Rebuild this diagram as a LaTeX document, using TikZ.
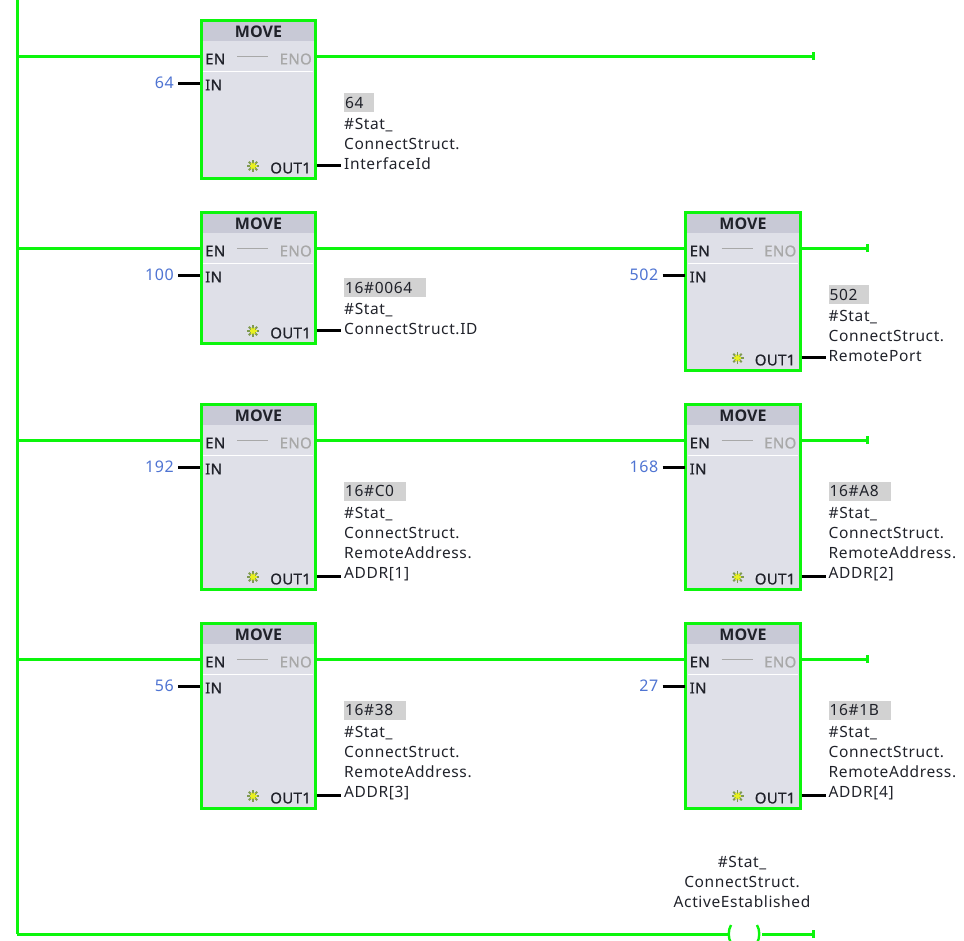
\documentclass[tikz,border=0pt]{standalone}
\usepackage{fontspec}
\setmainfont{Noto Sans}[LetterSpace=4]
\newfontfamily\headfont{Open Sans}
\newfontfamily\portfont{Noto Sans}[FakeBold=0.8,LetterSpace=2]
\definecolor{rung}{HTML}{0CF50C}
\definecolor{bodyc}{HTML}{DFE0E8}
\definecolor{headc}{HTML}{C8C9D6}
\definecolor{valc}{HTML}{4F74D2}
\definecolor{grayval}{HTML}{D2D2D2}
\definecolor{enoc}{HTML}{A8A8A8}
\definecolor{txt}{HTML}{20222A}
\definecolor{starout}{HTML}{7F9A50}
\definecolor{starin}{HTML}{E8F020}
\tikzset{
 wire/.style={rung,line width=3pt},
 blockbox/.style={draw=rung,line width=3pt,fill=bodyc,anchor=north west,inner sep=0pt},
 headbox/.style={fill=headc,anchor=north west,inner sep=0pt,font=\headfont\fontsize{16}{16}\selectfont\bfseries,text=txt,align=center},
 port/.style={inner sep=0pt,font=\portfont\fontsize{15}{15}\selectfont,text=txt},
 sig/.style={black,line width=3pt},
 invalue/.style={inner sep=0pt,anchor=east,font=\fontsize{16}{16}\selectfont,text=valc},
 lbl/.style={inner sep=0pt,align=left,font=\fontsize{15.5}{20}\selectfont,text=txt},
 grayv/.style={fill=grayval,inner sep=0pt,anchor=south west,minimum height=19pt,text=txt,
   font=\fontsize{15.5}{15.5}\selectfont,align=left},
}
% name, x, top, bottom, in value, gray value, gray width, label lines
\newcommand\moveblock[8]{%
 \node[blockbox,minimum width=114.5pt,minimum height={#4-#3-1}] (#1) at (#2-0.5,#3-1) {};
 \node[headbox,minimum width=111.5pt,minimum height=19pt,text height=11pt] (#1-h) at (#2+2.5,#3+2) {MOVE};
 \draw[white,line width=1pt] (#2+3,#3+51) -- (#2+113,#3+51);
 \coordinate (#1-en) at (#2,#3+36);
 \coordinate (#1-eno) at (#2+116,#3+36);
 \coordinate (#1-in) at (#2,#3+63);
 \coordinate (#1-out) at (#2+117,#4-14);
 \coordinate (#1-star) at (#2+53,#4-13);
 \node[port,anchor=west] (#1-ent) at (#2+5,#3+39) {EN};
 \node[port,anchor=east,text=enoc] (#1-enot) at (#2+112,#3+39) {ENO};
 \draw[enoc,line width=1pt] (#2+37,#3+36.5) -- (#2+68,#3+36.5);
 \node[port,anchor=west] (#1-int) at (#2+5,#3+65) {IN};
 \node[port,anchor=east] (#1-outt) at (#2+111,#4-11) {OUT1};
 \foreach \a in {0,45,90,135}{\draw[starout,line width=1.8pt] ([shift={(\a:6pt)}]#1-star) -- ([shift={(\a+180:6pt)}]#1-star);}
 \foreach \a in {0,60,120}{\draw[starin,line width=1.8pt] ([shift={(\a:3.5pt)}]#1-star) -- ([shift={(\a+180:3.5pt)}]#1-star);}
 \node[invalue] (#1-v) at (#2-26,#3+63) {#5};
 \coordinate (#1-vr) at (#2-22,#3+63);
 \draw[sig] (#1-vr) -- (#1-in);
 \coordinate (#1-q) at (#2+141,#4-14);
 \draw[sig] (#1-out) -- (#1-q);
 \node[lbl,anchor=south west] (#1-l) at (#2+144,#4-9) {#8};
 \node[grayv,minimum width=#7] (#1-g) at ([yshift=6pt]#1-l.north west) {\makebox[#7][l]{\hspace{1pt}#6}};
}
\begin{document}
\begin{tikzpicture}[x=1pt,y=-1pt]
\useasboundingbox (0,0) rectangle (964,940);
\coordinate (top) at (17,0);
\coordinate (bot) at (17,934);
\moveblock{a}{200}{20}{179}{64}{64}{30pt}{\#Stat\_\\ConnectStruct.\\InterfaceId}
\moveblock{b}{200}{212}{344}{100}{16\#0064}{82pt}{\#Stat\_\\ConnectStruct.ID}
\moveblock{c}{684.5}{212}{371}{502}{502}{40pt}{\#Stat\_\\ConnectStruct.\\RemotePort}
\moveblock{d}{200}{404}{590}{192}{16\#C0}{62pt}{\#Stat\_\\ConnectStruct.\\RemoteAddress.\\ADDR[1]}
\moveblock{e}{684.5}{404}{590}{168}{16\#A8}{62pt}{\#Stat\_\\ConnectStruct.\\RemoteAddress.\\ADDR[2]}
\moveblock{f}{200}{623}{809}{56}{16\#38}{62pt}{\#Stat\_\\ConnectStruct.\\RemoteAddress.\\ADDR[3]}
\moveblock{g}{684.5}{623}{809}{27}{16\#1B}{62pt}{\#Stat\_\\ConnectStruct.\\RemoteAddress.\\ADDR[4]}
\draw[wire] (top) -- (bot);
\coordinate (r1) at (17,56); \coordinate (r2) at (17,248);
\coordinate (r3) at (17,440); \coordinate (r4) at (17,659);
\coordinate (e1) at (813,56); \coordinate (e2) at (867,248);
\coordinate (e3) at (867,440); \coordinate (e4) at (867,659);
\coordinate (e5) at (813,934);
\coordinate (coilL) at (729,934); \coordinate (coilR) at (762,934);
\draw[wire] (r1) -- (a-en); \draw[wire] (a-eno) -- (e1);
\draw[wire] (r2) -- (b-en); \draw[wire] (b-eno) -- (c-en); \draw[wire] (c-eno) -- (e2);
\draw[wire] (r3) -- (d-en); \draw[wire] (d-eno) -- (e-en); \draw[wire] (e-eno) -- (e3);
\draw[wire] (r4) -- (f-en); \draw[wire] (f-eno) -- (g-en); \draw[wire] (g-eno) -- (e4);
\draw[wire] (bot) -- (coilL);
\draw[wire] (coilR) -- (e5);
\foreach \p in {e1,e2,e3,e4,e5}{\draw[rung,line width=3pt] ([yshift=-4pt]\p) -- ([yshift=4pt]\p);}
\draw[rung,line width=2.4pt] (731,925) .. controls (728,930) and (728,938) .. (731,943);
\draw[rung,line width=2.4pt] (757,925) .. controls (760,930) and (760,938) .. (757,943);
\node[lbl,align=center,anchor=south] (coilname) at (742,908) {\#Stat\_\\ConnectStruct.\\ActiveEstablished};
\end{tikzpicture}
\end{document}
